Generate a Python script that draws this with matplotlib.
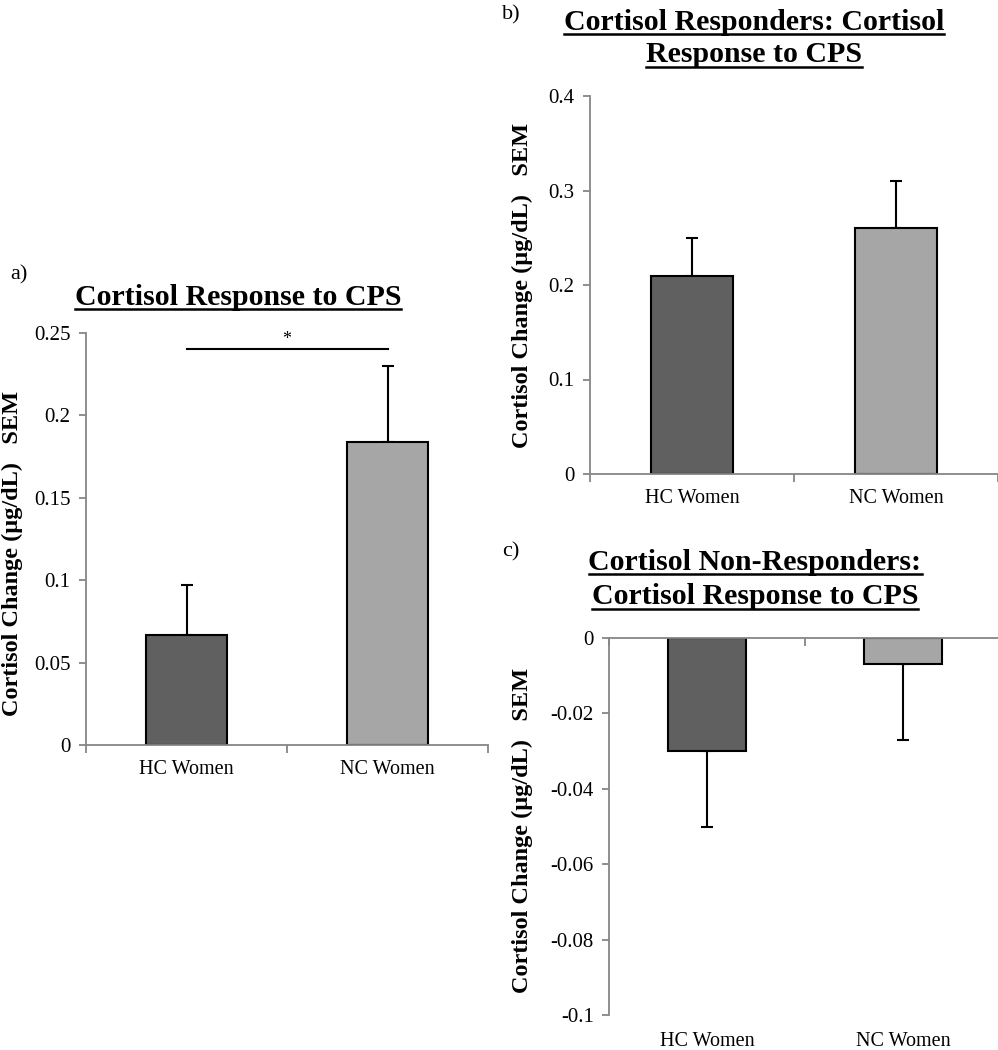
import matplotlib
matplotlib.use("Agg")
import matplotlib.pyplot as plt
from matplotlib.lines import Line2D
from matplotlib.ticker import FuncFormatter

plt.rcParams['font.family'] = ['Liberation Serif', 'DejaVu Serif']
plt.rcParams['axes.unicode_minus'] = False

groups = ["HC Women", "NC Women"]
colors = ["#606060", "#a6a6a6"]

# a) all participants
all_mean = [0.067, 0.184]
all_sem = [0.030, 0.046]
sig_level = 0.240

# b) cortisol responders
resp_mean = [0.21, 0.26]
resp_sem = [0.04, 0.05]

# c) cortisol non-responders
nonresp_mean = [-0.030, -0.007]
nonresp_sem = [0.020, 0.020]

W, H = 998, 1050
fig = plt.figure(figsize=(W / 100, H / 100), dpi=100)

GRAY = "#868686"
ylabel = "Cortisol Change (\u00b5g/dL)   SEM"
XFS, YFS = 14.5, 15


def px_axes(left, right, top, bottom):
    return fig.add_axes([left / W, 1 - bottom / H, (right - left) / W, (bottom - top) / H])


def style(ax):
    for s in ["top", "right"]:
        ax.spines[s].set_visible(False)
    for s in ["left", "bottom"]:
        ax.spines[s].set_color(GRAY)
        ax.spines[s].set_linewidth(1.3)
    ax.tick_params(axis="y", colors=GRAY, labelcolor="black", labelsize=YFS,
                   length=5, width=1.3, direction="out", pad=6)
    ax.yaxis.set_major_formatter(FuncFormatter(lambda v, p: "{:g}".format(round(v, 4))))
    ax.set_xlim(-0.5, 1.5)
    ax.set_xticks([-0.5, 0.5, 1.5], minor=True)
    ax.set_xticks(range(len(groups)))
    ax.tick_params(axis="x", which="major", length=0)
    ax.tick_params(axis="x", which="minor", colors=GRAY, length=6, width=1.3)


def bars(ax, mean, sem, up=True):
    ax.bar(range(len(groups)), mean, width=0.4, color=colors, edgecolor="black",
           linewidth=1.5, zorder=2)
    if up:
        yerr = [[0] * len(sem), sem]
    else:
        yerr = [sem, [0] * len(sem)]
    ax.errorbar(range(len(groups)), mean, yerr=yerr, fmt="none", ecolor="black",
                elinewidth=1.5, capsize=4, capthick=1.5, zorder=1)


# panel a
axa = px_axes(86, 488, 333, 745)
style(axa)
bars(axa, all_mean, all_sem)
axa.set_ylim(0, 0.25)
axa.set_yticks([0, 0.05, 0.1, 0.15, 0.2, 0.25])
axa.set_xticklabels(groups, fontsize=XFS)
axa.tick_params(axis="x", which="major", pad=11)
axa.plot([0, 1], [sig_level, sig_level], color="black", lw=1.5)
axa.text(0.5, sig_level + 0.001, "*", ha="center", va="bottom", fontsize=13)

# panel b
axb = px_axes(590, 998, 96, 474)
style(axb)
bars(axb, resp_mean, resp_sem)
axb.set_ylim(0, 0.4)
axb.set_yticks([0, 0.1, 0.2, 0.3, 0.4])
axb.set_xticklabels(groups, fontsize=XFS)
axb.tick_params(axis="x", which="major", pad=11)

# panel c
axc = px_axes(609, 1001, 638, 1015)
style(axc)
bars(axc, nonresp_mean, nonresp_sem, up=False)
axc.set_ylim(-0.1, 0)
axc.set_yticks([-0.1, -0.08, -0.06, -0.04, -0.02, 0])
axc.spines["bottom"].set_position(("data", 0))
axc.tick_params(axis="x", which="major", labelbottom=False)
for i, g in enumerate(groups):
    axc.text(i, -0.1045, g, ha="center", va="top", fontsize=XFS, clip_on=False)

# y labels
for x, y in [(12, 553), (522, 285), (522, 830)]:
    fig.text(x / W, 1 - y / H, ylabel, rotation=90, ha="center", va="center",
             fontsize=17.5, fontweight="bold")

# panel letters
for lbl, x, y in [("a)", 10, 275), ("b)", 502, 15), ("c)", 502, 552)]:
    fig.text(x / W, 1 - y / H, lbl, ha="left", va="center", fontsize=16)

# titles (underlined)
titles = [("Cortisol Response to CPS", 238, 297),
          ("Cortisol Responders: Cortisol", 754, 22),
          ("Response to CPS", 754, 55),
          ("Cortisol Non-Responders:", 755, 562),
          ("Cortisol Response to CPS", 755, 597)]
title_texts = []
for t, x, y in titles:
    title_texts.append(fig.text(x / W, 1 - y / H, t, ha="center", va="center",
                                fontsize=21.5, fontweight="bold"))

fig.canvas.draw()
r = fig.canvas.get_renderer()
for tt in title_texts:
    bb = tt.get_window_extent(r)
    yline = (bb.y0 + 2) / H
    fig.add_artist(Line2D([bb.x0 / W, bb.x1 / W], [yline, yline],
                          transform=fig.transFigure, color="black", lw=1.8))

fig.savefig("out.png", dpi=100)
